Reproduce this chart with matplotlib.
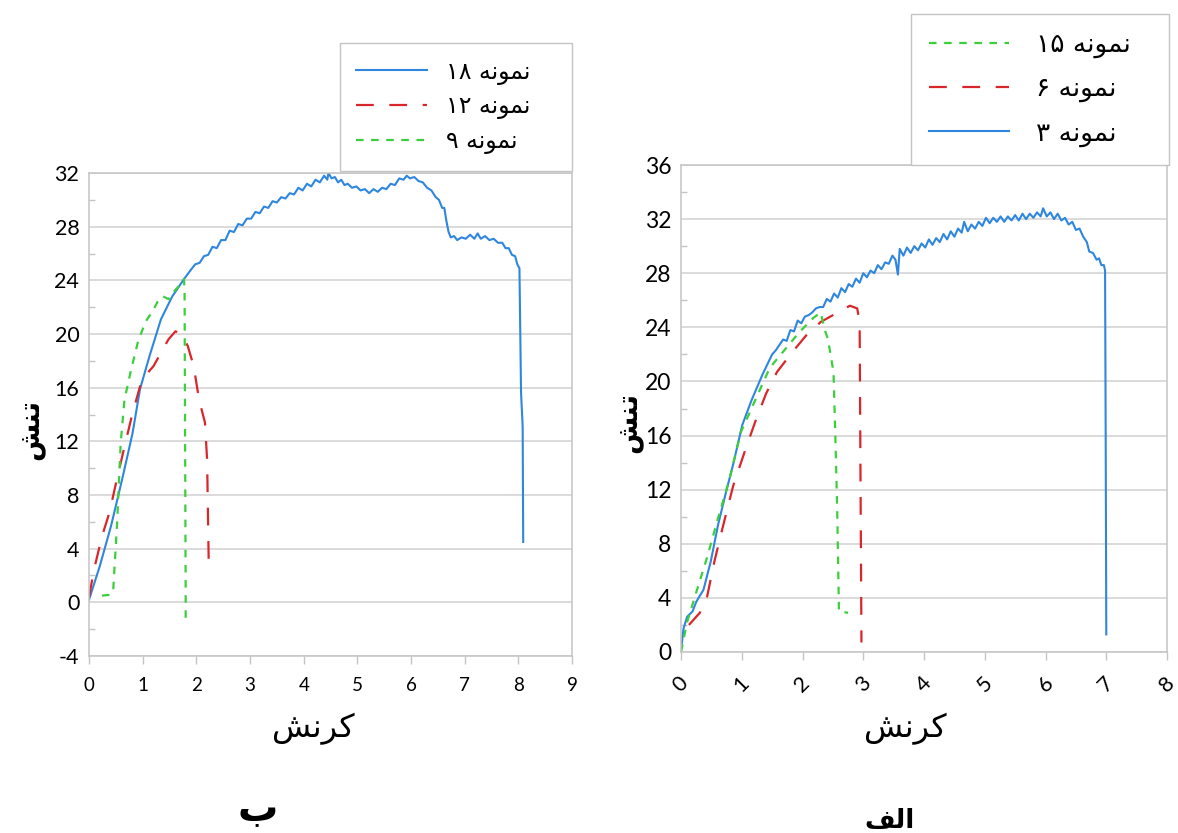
import matplotlib
matplotlib.use("Agg")
import matplotlib.pyplot as plt

plt.rcParams["font.family"] = ["Lato", "DejaVu Sans"]
plt.rcParams["axes.unicode_minus"] = False

# ---- Persian text in visual (shaped, right-to-left) order ----
SAMPLE = "\uFEEA\uFEE7\uFEEE\uFEE4\uFEE7"       # نمونه
STRESS = "\uFEB6\uFEE8\uFE97"                     # تنش
STRAIN = "\uFEB6\uFEE7\uFEAE\uFB90"               # کرنش
PANEL_A = "\uFED2\uFEDF\uFE8D"                    # الف
PANEL_B = "\uFE8F"                                # ب

# ---- panel (b): samples 18, 12, 9 ----
b_s18_strain = [0.0, 0.2, 0.41, 0.63, 0.81, 0.95, 1.13, 1.34, 1.55, 1.77,
                1.90, 1.98, 2.06, 2.14, 2.22, 2.30, 2.38, 2.46, 2.54, 2.62,
                2.70, 2.78, 2.86, 2.94, 3.02, 3.10, 3.18, 3.26, 3.34, 3.42,
                3.50, 3.58, 3.66, 3.74, 3.82, 3.90, 3.98, 4.06, 4.14, 4.22,
                4.30, 4.38, 4.44, 4.46, 4.52, 4.58, 4.64, 4.70, 4.76, 4.82,
                4.90, 4.98, 5.06, 5.14, 5.22, 5.30, 5.38, 5.46, 5.54, 5.62,
                5.70, 5.78, 5.86, 5.92, 5.98, 6.06, 6.14, 6.22, 6.30, 6.38,
                6.46, 6.52, 6.58, 6.62, 6.66, 6.70, 6.74, 6.80, 6.86, 6.94,
                7.02, 7.10, 7.18, 7.24, 7.30, 7.38, 7.46, 7.54, 7.62, 7.70,
                7.76, 7.82, 7.88, 7.94, 7.98, 8.02, 8.05, 8.08, 8.09]
b_s18_stress = [0.2, 2.7, 5.7, 9.4, 12.6, 15.9, 18.4, 21.1, 22.8, 24.1,
                24.8, 25.2, 25.3, 25.8, 25.9, 26.5, 26.4, 27.0, 27.0, 27.7,
                27.6, 28.2, 28.1, 28.6, 28.6, 29.1, 29.0, 29.5, 29.4, 29.9,
                29.8, 30.2, 30.1, 30.5, 30.4, 30.9, 30.7, 31.2, 31.0, 31.5,
                31.3, 31.8, 31.5, 32.0, 31.6, 31.7, 31.3, 31.5, 31.1, 31.2,
                30.9, 31.0, 30.7, 30.8, 30.5, 30.8, 30.6, 30.9, 30.8, 31.2,
                31.1, 31.6, 31.5, 31.8, 31.6, 31.7, 31.4, 31.3, 30.9, 30.7,
                30.2, 30.0, 29.4, 29.4, 28.4, 27.6, 27.2, 27.3, 27.0, 27.2,
                27.1, 27.4, 27.1, 27.5, 27.1, 27.3, 27.0, 27.1, 26.8, 26.8,
                26.4, 26.4, 25.9, 25.8, 25.2, 24.9, 15.6, 13.1, 4.5]

b_s12_strain = [0.0, 0.09, 0.24, 0.38, 0.52, 0.66, 0.81, 0.95, 1.09, 1.2, 1.34, 1.48,
                1.61, 1.73, 1.84, 1.95, 2.05, 2.16, 2.2, 2.23]
b_s12_stress = [0.4, 2.4, 4.9, 6.7, 9.2, 11.6, 14.1, 16.1, 17.1, 17.6, 18.6, 19.6,
                20.2, 20.0, 19.1, 17.6, 15.1, 13.4, 10.6, 2.9]

b_s9_strain = [0.24, 0.41, 0.45, 0.52, 0.59, 0.66, 0.77, 0.91, 1.05, 1.2, 1.3, 1.38,
               1.48, 1.59, 1.7, 1.77, 1.78, 1.8, 1.8]
b_s9_stress = [0.5, 0.57, 0.9, 5.7, 11.9, 15.1, 17.1, 19.4, 20.9, 21.8, 22.6, 22.8,
               22.6, 23.2, 23.7, 24.1, 23.1, 0.7, -1.2]

# ---- panel (a): samples 15, 6, 3 ----
a_s3_strain = [0.0, 0.04, 0.1, 0.19, 0.25, 0.37, 0.49, 0.61, 0.74, 0.86, 1.01, 1.16,
               1.34, 1.50, 1.56, 1.62, 1.68, 1.74, 1.80, 1.86, 1.92, 1.98, 2.04,
               2.10, 2.16, 2.22, 2.28, 2.34, 2.40, 2.46, 2.52, 2.58, 2.64, 2.70,
               2.76, 2.82, 2.88, 2.94, 3.00, 3.06, 3.12, 3.18, 3.24, 3.30, 3.36,
               3.42, 3.48, 3.53, 3.57, 3.60, 3.66, 3.72, 3.78, 3.84, 3.90, 3.96,
               4.02, 4.08, 4.14, 4.20, 4.26, 4.32, 4.38, 4.44, 4.50, 4.56, 4.62,
               4.66, 4.72, 4.78, 4.84, 4.90, 4.96, 5.02, 5.08, 5.14, 5.20, 5.26,
               5.32, 5.38, 5.44, 5.50, 5.56, 5.62, 5.68, 5.74, 5.80, 5.86, 5.92,
               5.96, 6.02, 6.08, 6.14, 6.20, 6.26, 6.32, 6.38, 6.44, 6.50, 6.56,
               6.62, 6.68, 6.72, 6.78, 6.84, 6.88, 6.92, 6.96, 6.98, 6.99, 7.0]
a_s3_stress = [0.1, 1.7, 2.6, 3.0, 3.7, 4.6, 6.7, 9.4, 11.8, 13.9, 16.8, 18.6,
               20.5, 22.0, 22.3, 22.7, 23.1, 23.0, 23.8, 23.7, 24.5, 24.3, 24.8,
               24.9, 25.1, 25.4, 25.5, 25.5, 26.1, 25.9, 26.5, 26.2, 26.9, 26.6,
               27.2, 27.0, 27.6, 27.3, 28.0, 27.7, 28.2, 28.0, 28.6, 28.3, 28.8,
               28.7, 29.3, 29.0, 27.9, 29.8, 29.3, 29.9, 29.5, 30.0, 29.7, 30.2,
               29.9, 30.5, 30.1, 30.6, 30.3, 30.9, 30.5, 31.1, 30.7, 31.3, 31.0,
               31.8, 31.1, 31.6, 31.3, 31.8, 31.5, 32.1, 31.7, 32.1, 31.8, 32.2,
               31.8, 32.2, 31.9, 32.3, 31.9, 32.4, 32.0, 32.4, 32.1, 32.5, 32.2,
               32.8, 32.2, 32.5, 32.0, 32.4, 31.9, 32.1, 31.6, 31.8, 31.2, 31.3,
               30.7, 30.3, 29.6, 29.5, 29.0, 29.1, 28.6, 28.6, 28.2, 16.0, 1.3]

a_s6_strain = [0.13, 0.31, 0.43, 0.55, 0.68, 0.86, 1.04, 1.22, 1.4, 1.58, 1.82, 2.06,
               2.3, 2.54, 2.78, 2.9, 2.94, 2.97]
a_s6_stress = [2.0, 2.9, 4.1, 6.7, 9.1, 12.3, 14.7, 17.0, 19.1, 20.7, 22.1, 23.4,
               24.4, 25.0, 25.6, 25.4, 24.4, 0.7]

a_s15_strain = [0.0, 0.1, 0.25, 0.43, 0.61, 0.8, 0.98, 1.22, 1.46, 1.7, 1.94, 2.18,
                2.3, 2.36, 2.42, 2.51, 2.54, 2.57, 2.6, 2.75]
a_s15_stress = [0.0, 2.2, 4.4, 7.0, 9.9, 12.8, 16.2, 18.6, 21.0, 22.3, 23.6, 24.7,
                25.1, 23.9, 23.1, 20.7, 16.0, 10.7, 3.0, 2.9]

BLUE = "#2e86de"
RED = "#d9262a"
GREEN = "#3ccf3c"
STYLE = {
    "blue": dict(color=BLUE, lw=1.5, linestyle="-"),
    "red": dict(color=RED, lw=1.6, linestyle=(0, (8, 7))),
    "green": dict(color=GREEN, lw=1.6, linestyle=(0, (3.4, 3.4))),
}
GRID = "#d4d4d4"
SPINE = "#c4c4c4"

fig = plt.figure(figsize=(11.78, 8.33), dpi=100)
fig.patch.set_facecolor("white")

ax_b = fig.add_axes([0.0756, 0.2125, 0.4100, 0.5798])
ax_a = fig.add_axes([0.5781, 0.2173, 0.4126, 0.5846])


def style_axes(ax, ylim, yticks, xlim, xticks, ysize, xsize):
    ax.set_xlim(*xlim)
    ax.set_ylim(*ylim)
    ax.set_yticks(yticks)
    ax.set_yticks([v + 2 for v in yticks[:-1]], minor=True)
    ax.set_xticks(xticks)
    ax.yaxis.grid(True, color=GRID, lw=1.2)
    ax.set_axisbelow(True)
    for sp in ax.spines.values():
        sp.set_color(SPINE)
        sp.set_linewidth(1.1)
    ax.tick_params(axis="y", which="major", length=0, pad=7, labelsize=ysize,
                   colors="black")
    ax.tick_params(axis="y", which="minor", direction="in", length=4,
                   color=SPINE, width=1)
    ax.tick_params(axis="x", which="major", direction="out", length=6,
                   color=SPINE, width=1, pad=9, labelsize=xsize)


style_axes(ax_b, (-4, 32), list(range(-4, 33, 4)), (0, 9), list(range(0, 10)),
           15.5, 13.5)
style_axes(ax_a, (0, 36), list(range(0, 37, 4)), (0, 8), list(range(0, 9)),
           16.5, 15.5)
for lbl in ax_a.get_xticklabels():
    lbl.set_rotation(45)
    lbl.set_ha("center")

h18, = ax_b.plot(b_s18_strain, b_s18_stress, **STYLE["blue"])
h12, = ax_b.plot(b_s12_strain, b_s12_stress, **STYLE["red"])
h9, = ax_b.plot(b_s9_strain, b_s9_stress, **STYLE["green"])

h3, = ax_a.plot(a_s3_strain, a_s3_stress, **STYLE["blue"])
h6, = ax_a.plot(a_s6_strain, a_s6_stress, **STYLE["red"])
h15, = ax_a.plot(a_s15_strain, a_s15_stress, **STYLE["green"])


def add_legend(ax, handles, labels, box, size, hlen, tpad, spacing, bpad):
    leg = ax.legend(handles, labels, bbox_to_anchor=box,
                    bbox_transform=fig.transFigure, loc="upper left",
                    mode="expand", borderaxespad=0, frameon=True, fancybox=False,
                    framealpha=1, edgecolor="#c4c4c4", handlelength=hlen,
                    handletextpad=tpad, labelspacing=spacing, borderpad=bpad,
                    prop={"family": "DejaVu Sans", "size": size})
    leg.get_frame().set_linewidth(1.0)
    leg.set_zorder(5)
    return leg


add_legend(ax_b, [h18, h12, h9],
           ["\u06F1\u06F8 " + SAMPLE, "\u06F1\u06F2 " + SAMPLE, "\u06F9 " + SAMPLE],
           (0.2886, 0.7911, 0.1970, 0.1573), 17, 3.0, 0.8, 0.42, 0.7)
add_legend(ax_a, [h15, h6, h3],
           ["\u06F1\u06F5 " + SAMPLE, "\u06F6 " + SAMPLE, "\u06F3 " + SAMPLE],
           (0.7734, 0.8019, 0.2190, 0.1813), 19, 3.05, 1.0, 0.68, 0.68)

ar = ["DejaVu Sans"]
fig.text(0.0255, 0.4838, STRESS, rotation=90, ha="center", va="center",
         family=ar, fontsize=20, fontweight="bold")
fig.text(0.533, 0.4922, STRESS, rotation=90, ha="center", va="center",
         family=ar, fontsize=20, fontweight="bold")
fig.text(0.2657, 0.1248, STRAIN, ha="center", va="center", family=ar, fontsize=23)
fig.text(0.7683, 0.1248, STRAIN, ha="center", va="center", family=ar, fontsize=23)
fig.text(0.219, 0.003, PANEL_B, ha="center", va="bottom", family=ar,
         fontsize=29, fontweight="bold")
fig.text(0.7555, 0.006, PANEL_A, ha="center", va="baseline", family=ar,
         fontsize=19, fontweight="bold")

fig.savefig("out.png", dpi=100, facecolor="white")
